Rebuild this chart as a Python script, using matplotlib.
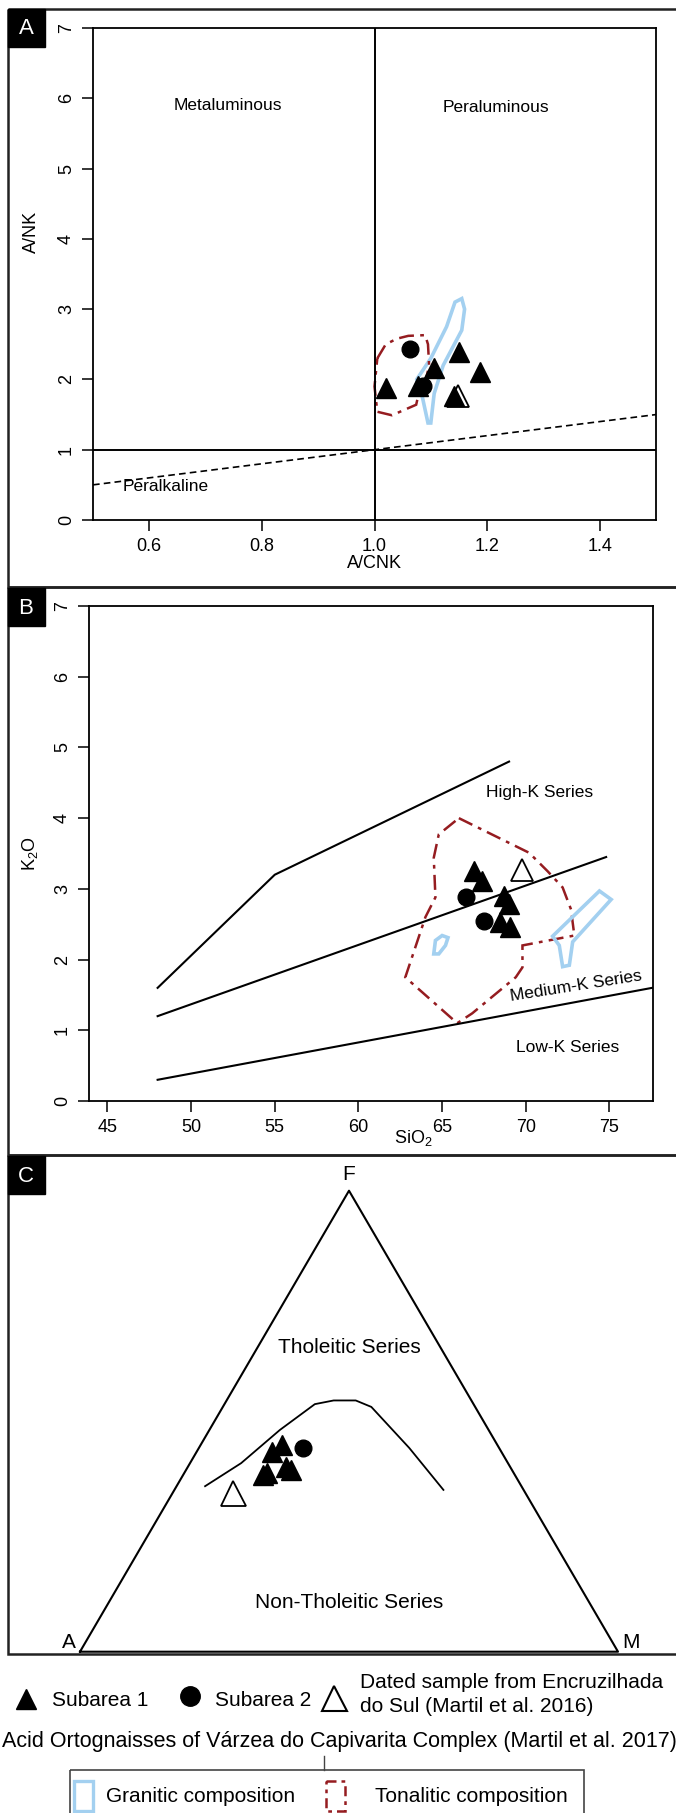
import matplotlib
matplotlib.use("Agg")
import matplotlib.pyplot as plt
from matplotlib.patches import Rectangle, Polygon
import numpy as np

plt.rcParams['font.family'] = ['Liberation Sans', 'DejaVu Sans']
plt.rcParams['mathtext.default'] = 'regular'

RED = '#951c20'
BLUE = '#a3d0f0'
DASHDOT = (0, (6, 2.5, 1.5, 2.5))

# ---- panel A : A/CNK vs A/NK ----
a_sub1_x = [1.020, 1.077, 1.106, 1.150, 1.187, 1.141]
a_sub1_y = [1.88, 1.90, 2.16, 2.39, 2.10, 1.76]
a_sub2_x = [1.063, 1.086]
a_sub2_y = [2.43, 1.91]
a_dated_x = [1.149]
a_dated_y = [1.76]
a_gran_x = [1.095, 1.085, 1.075, 1.100, 1.128, 1.143, 1.155, 1.160, 1.155, 1.122, 1.106, 1.100]
a_gran_y = [1.38, 1.75, 2.00, 2.30, 2.75, 3.10, 3.15, 3.00, 2.70, 2.20, 1.80, 1.38]
a_ton_x = [1.005, 1.020, 1.040, 1.060, 1.090, 1.095, 1.097, 1.090, 1.078, 1.074, 1.031, 1.005, 1.000]
a_ton_y = [2.30, 2.50, 2.58, 2.62, 2.63, 2.50, 2.20, 1.95, 1.78, 1.64, 1.49, 1.54, 1.90]
a_xticks = [0.6, 0.8, 1.0, 1.2, 1.4]
a_yticks = [0, 1, 2, 3, 4, 5, 6, 7]

# ---- panel B : SiO2 vs K2O ----
b_shos_x = [48, 55, 69]
b_shos_y = [1.6, 3.2, 4.8]
b_highk_x = [48, 74.8]
b_highk_y = [1.2, 3.45]
b_lowk_x = [48, 78]
b_lowk_y = [0.3, 1.62]
b_sub1_x = [66.9, 67.4, 68.7, 69.0, 68.45, 69.07]
b_sub1_y = [3.25, 3.11, 2.90, 2.79, 2.53, 2.46]
b_sub2_x = [66.4, 67.5]
b_sub2_y = [2.89, 2.55]
b_dated_x = [69.8]
b_dated_y = [3.26]
b_ton_x = [66.0, 70.2, 71.3, 72.2, 72.7, 72.9, 69.8, 69.8, 69.4, 66.8, 65.9, 62.8, 64.0, 64.6, 64.5, 64.8]
b_ton_y = [4.00, 3.51, 3.25, 3.02, 2.71, 2.34, 2.20, 1.89, 1.75, 1.24, 1.10, 1.75, 2.60, 2.88, 3.44, 3.77]
b_gran1_x = [64.5, 64.6, 65.0, 65.35, 65.2, 64.8]
b_gran1_y = [2.08, 2.27, 2.34, 2.31, 2.20, 2.08]
b_gran2_x = [71.6, 74.4, 75.1, 72.8, 72.6, 72.2, 72.0]
b_gran2_y = [2.33, 2.97, 2.85, 2.25, 1.92, 1.90, 2.20]
b_xticks = [45, 50, 55, 60, 65, 70, 75]
b_yticks = [0, 1, 2, 3, 4, 5, 6, 7]

# ---- panel C : AFM (fractions A, F, M) ----
c_curve_a = [0.588, 0.496, 0.388, 0.295, 0.256, 0.215, 0.193, 0.167, 0.149]
c_curve_f = [0.359, 0.409, 0.481, 0.537, 0.545, 0.545, 0.531, 0.442, 0.351]
c_sub1_a = [0.427, 0.400, 0.458, 0.416, 0.411, 0.469]
c_sub1_f = [0.434, 0.448, 0.388, 0.401, 0.394, 0.383]
c_sub2_a = [0.365]
c_sub2_f = [0.441]
c_dated_a = [0.544]
c_dated_f = [0.344]

W, H = 676, 1813
fig = plt.figure(figsize=(W / 100, H / 100), dpi=100)


def px_axes(l, t, r, b):
    return fig.add_axes([l / W, 1 - b / H, (r - l) / W, (b - t) / H])


def style_axes(ax):
    for s in ax.spines.values():
        s.set_linewidth(1.3)
    ax.tick_params(direction='out', length=8, width=1.1, labelsize=13, pad=5)
    for lab in ax.get_yticklabels():
        lab.set_rotation(90)
        lab.set_va('center')


# background axes in pixel coordinates for frames and legend
bg = fig.add_axes([0, 0, 1, 1])
bg.set_xlim(0, W)
bg.set_ylim(H, 0)
bg.axis('off')
for top, bot in [(9, 587), (587, 1155), (1155, 1654)]:
    bg.add_patch(Rectangle((8, top), 700, bot - top, fill=False, lw=1.8, ec='#222222'))
for top, lab in [(9, 'A'), (588, 'B'), (1156, 'C')]:
    bg.add_patch(Rectangle((8, top), 37, 38, color='black'))
    bg.text(26, top + 20, lab, color='white', ha='center', va='center', fontsize=16)

# ---------------- panel A ----------------
axA = px_axes(93, 28, 656, 520)
axA.set_xlim(0.5, 1.5)
axA.set_ylim(0, 7)
axA.set_xticks(a_xticks)
axA.set_xticklabels([f'{v:.1f}' for v in a_xticks])
axA.set_yticks(a_yticks)
style_axes(axA)
axA.axhline(1, color='black', lw=1.4)
axA.axvline(1.0, color='black', lw=1.4)
axA.plot([0.5, 1.0, 1.5], [0.5, 1.0, 1.5], color='black', lw=1.2, ls=(0, (4, 2.5)))
axA.add_patch(Polygon(np.column_stack([a_gran_x, a_gran_y]), closed=True, fill=False,
                      ec=BLUE, lw=2.6))
axA.add_patch(Polygon(np.column_stack([a_ton_x, a_ton_y]), closed=True, fill=False,
                      ec=RED, lw=1.8, ls=DASHDOT))
axA.plot(a_dated_x, a_dated_y, '^', mfc='white', mec='black', mew=1.3, ms=16, zorder=4)
axA.plot(a_sub2_x, a_sub2_y, 'o', color='black', ms=12, zorder=4)
axA.plot(a_sub1_x, a_sub1_y, '^', color='black', ms=15, zorder=5)
axA.text(0.74, 5.9, 'Metaluminous', ha='center', va='center', fontsize=12.5)
axA.text(1.216, 5.87, 'Peraluminous', ha='center', va='center', fontsize=12.5)
axA.text(0.553, 0.47, 'Peralkaline', ha='left', va='center', fontsize=12.5)
axA.set_xlabel('A/CNK', fontsize=13, labelpad=0)
axA.text(-0.11, 4.1, 'A/NK', rotation=90, ha='center', va='center', fontsize=13,
         transform=axA.get_yaxis_transform())

# ---------------- panel B ----------------
axB = px_axes(89, 606, 653, 1101)
axB.set_xlim(43.9, 77.6)
axB.set_ylim(0, 7)
axB.set_xticks(b_xticks)
axB.set_yticks(b_yticks)
style_axes(axB)
for xs, ys in [(b_shos_x, b_shos_y), (b_highk_x, b_highk_y), (b_lowk_x, b_lowk_y)]:
    axB.plot(xs, ys, color='black', lw=1.5)
axB.add_patch(Polygon(np.column_stack([b_ton_x, b_ton_y]), closed=True, fill=False,
                      ec=RED, lw=1.8, ls=DASHDOT))
for gx, gy in [(b_gran1_x, b_gran1_y), (b_gran2_x, b_gran2_y)]:
    axB.add_patch(Polygon(np.column_stack([gx, gy]), closed=True, fill=False, ec=BLUE, lw=2.6))
axB.plot(b_dated_x, b_dated_y, '^', mfc='white', mec='black', mew=1.3, ms=16, zorder=4)
axB.plot(b_sub2_x, b_sub2_y, 'o', color='black', ms=12, zorder=4)
axB.plot(b_sub1_x, b_sub1_y, '^', color='black', ms=15, zorder=5)
axB.text(70.8, 4.36, 'High-K Series', ha='center', va='center', fontsize=12.5)
axB.text(73.0, 1.63, 'Medium-K Series', ha='center', va='center', fontsize=12.5, rotation=9)
axB.text(72.5, 0.75, 'Low-K Series', ha='center', va='center', fontsize=12.5)
axB.text(0.575, -0.075, 'SiO$_2$', transform=axB.transAxes, ha='center', va='center', fontsize=13)
axB.text(-0.105, 3.5, 'K$_2$O', rotation=90, ha='center', va='center', fontsize=13,
         transform=axB.get_yaxis_transform())

# ---------------- panel C ----------------
axC = px_axes(80, 1190.7, 618, 1651.7)
h = np.sqrt(3) / 2
axC.set_xlim(0, 1)
axC.set_ylim(0, h)
axC.axis('off')


def tern(a, f):
    a = np.asarray(a)
    f = np.asarray(f)
    m = 1 - a - f
    return m + f / 2, f * h


axC.plot([0, 1, 0.5, 0], [0, 0, h, 0], color='black', lw=1.5, clip_on=False)
cx, cy = tern(c_curve_a, c_curve_f)
axC.plot(cx, cy, color='black', lw=1.3)
x, y = tern(c_dated_a, c_dated_f)
axC.plot(x, y, '^', mfc='white', mec='black', mew=1.3, ms=18, zorder=4)
x, y = tern(c_sub2_a, c_sub2_f)
axC.plot(x, y, 'o', color='black', ms=12, zorder=4)
x, y = tern(c_sub1_a, c_sub1_f)
axC.plot(x, y, '^', color='black', ms=15, zorder=5)
axC.text(0.5, h + 0.012, 'F', ha='center', va='bottom', fontsize=15)
axC.text(-0.008, 0.0, 'A', ha='right', va='bottom', fontsize=15)
axC.text(1.008, 0.0, 'M', ha='left', va='bottom', fontsize=15)
axC.text(0.5, 0.572, 'Tholeitic Series', ha='center', va='center', fontsize=15)
axC.text(0.5, 0.093, 'Non-Tholeitic Series', ha='center', va='center', fontsize=15)

# ---------------- legend ----------------
bg.plot([26], [1699], '^', color='black', ms=14)
bg.text(52, 1700, 'Subarea 1', va='center', fontsize=15)
bg.plot([190], [1696], 'o', color='black', ms=14)
bg.text(215, 1700, 'Subarea 2', va='center', fontsize=15)
bg.plot([334], [1698], '^', mfc='white', mec='black', mew=1.5, ms=18)
bg.text(360, 1682, 'Dated sample from Encruzilhada', va='center', fontsize=15)
bg.text(360, 1707, 'do Sul (Martil et al. 2016)', va='center', fontsize=15)
bg.text(2, 1742, 'Acid Ortognaisses of Várzea do Capivarita Complex (Martil et al. 2017)',
        va='center', fontsize=15.5)
bg.plot([324, 324], [1756, 1770], color='#444444', lw=1)
bg.add_patch(Rectangle((70, 1770), 514, 80, fill=False, ec='#444444', lw=1.2))
bg.add_patch(Rectangle((74, 1781), 19, 30, fill=False, ec=BLUE, lw=2.4))
bg.text(106, 1797, 'Granitic composition', va='center', fontsize=15)
bg.add_patch(Rectangle((326, 1781), 19, 30, fill=False, ec=RED, lw=1.8, ls=(0, (4, 2, 1.5, 2))))
bg.text(375, 1797, 'Tonalitic composition', va='center', fontsize=15)

fig.savefig('out.png', dpi=100)
